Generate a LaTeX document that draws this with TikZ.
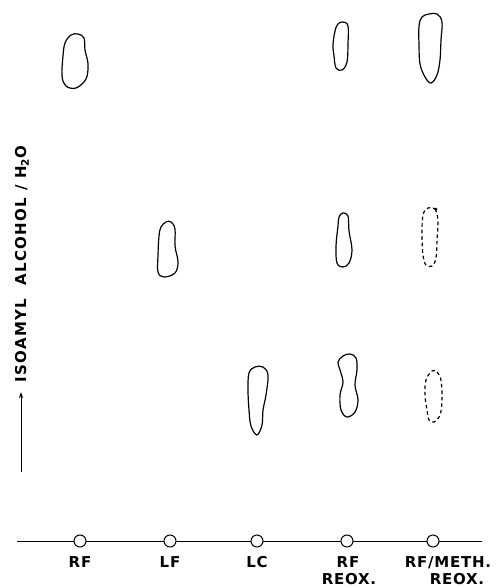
\documentclass[tikz,border=0pt]{standalone}
\usepackage{fontspec}
\newfontfamily\labfont[LetterSpace=5]{DejaVu Sans Bold}
\newfontfamily\axfont[LetterSpace=9]{DejaVu Sans Bold}
\usetikzlibrary{arrows.meta}
\begin{document}
\begin{tikzpicture}[x=1pt,y=-1pt,
  spot/.style={line width=1.2pt,line join=round},
  faint/.style={line width=1.2pt,dash pattern=on 3.5pt off 3pt},
  origin/.style={circle,draw,fill=white,line width=1pt,minimum size=12pt,inner sep=0pt},
  lab/.style={font=\labfont\fontsize{15}{17}\selectfont,anchor=base,inner sep=0pt},
  axlab/.style={font=\axfont\fontsize{15}{17}\selectfont,anchor=base,inner sep=0pt}]
\useasboundingbox (0,0) rectangle (496,587);
% spots
\draw[spot] plot[smooth cycle,tension=0.6] coordinates {(78,34) (84,38) (85,50) (88,64) (86,79) (76,88) (66,86) (62,76) (63,56) (65,43) (71,35)};
\draw[spot] plot[smooth cycle,tension=0.6] coordinates {(343,22) (348,26) (348,44) (347,62) (342,70) (336,68) (334,56) (333,45) (335,31) (338,24)};
\draw[spot] plot[smooth cycle,tension=0.6] coordinates {(429,14) (437,14) (442,22) (441,40) (440,60) (437,75) (431,83) (425,77) (420,64) (419,45) (419,26) (422,17)};
\draw[spot] plot[smooth cycle,tension=0.6] coordinates {(166,222) (171,222) (175,229) (175,246) (178,262) (175,273) (164,277) (158,272) (158,255) (159,236) (161,227)};
\draw[spot] plot[smooth cycle,tension=0.6] coordinates {(343,213) (348,216) (349,231) (352,250) (349,263) (343,267) (337,263) (336,246) (338,226) (339,217)};
\draw[faint] plot[smooth cycle,tension=0.6] coordinates {(428,208) (435,209) (438,221) (437,240) (436,258) (432,266) (426,265) (423,255) (422,235) (423,215)};
\fill (436,209) circle (1.5pt);
\draw[spot] plot[smooth cycle,tension=0.6] coordinates {(255,367) (263,367) (268,375) (266,395) (263,410) (262,425) (257,435) (251,426) (249,410) (248,390) (249,373)};
\draw[spot] plot[smooth cycle,tension=0.6] coordinates {(343,356) (350,354) (356,358) (357,370) (355,385) (358,400) (355,412) (347,417) (341,410) (340,395) (343,382) (340,370) (338,362)};
\draw[faint] plot[smooth cycle,tension=0.6] coordinates {(432,371) (437,372) (441,380) (442,400) (440,415) (434,422) (429,420) (427,410) (425,395) (426,380)};
% axis arrow and label
\coordinate (abot) at (21,472);
\coordinate (atop) at (21,392);
\draw[line width=0.9pt,-{Stealth[length=6pt,width=4pt]}] (abot) -- (atop);
\node[axlab,rotate=90] (solvent) at (26,264) {ISOAMYL\ \ ALCOHOL / H\textsubscript{2}O};
% origin line
\coordinate (lineL) at (17,541);
\coordinate (lineR) at (482,541);
\draw[line width=1pt] (lineL) -- (lineR);
\node[origin] (o1) at (80,541) {};
\node[origin] (o2) at (170,541) {};
\node[origin] (o3) at (257,541) {};
\node[origin] (o4) at (347,541) {};
\node[origin] (o5) at (433,541) {};
\node[lab] (l1) at (80,567) {RF};
\node[lab] (l2) at (170,567) {LF};
\node[lab] (l3) at (257,567) {LC};
\node[lab] (l4) at (348,567) {RF};
\node[lab] (l4b) at (349,584) {REOX.};
\node[lab] (l5) at (448,567) {RF/METH.};
\node[lab] (l5b) at (457,584) {REOX.};
\end{tikzpicture}
\end{document}
